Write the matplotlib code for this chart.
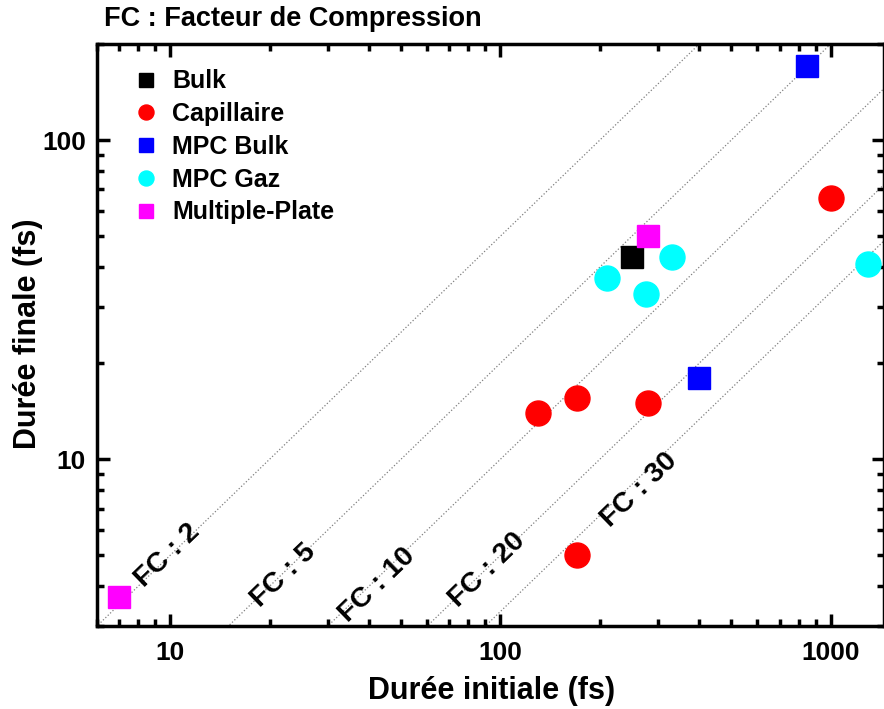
import numpy as np
import matplotlib.pyplot as plt
from matplotlib.ticker import LogLocator, NullFormatter

plt.rcParams['font.family'] = ['Liberation Sans', 'DejaVu Sans']
plt.rcParams['font.weight'] = 'bold'

# data (initial duration, final duration) in fs
bulk_x = [250]
bulk_y = [43]
capi_x = [1000, 130, 170, 280, 170]
capi_y = [66, 14, 15.5, 15, 5]
mpcb_x = [850, 400]
mpcb_y = [170, 18]
mpcg_x = [210, 330, 275, 1300]
mpcg_y = [37, 43, 33, 41]
mplate_x = [280, 7]
mplate_y = [50, 3.7]

# compression factor lines and where their labels sit
fc_values = [2, 5, 10, 20, 30]
fc_label_x = [9.8, 22.1, 42.3, 91, 263]
fc_label_y = [5.0, 4.33, 4.03, 4.49, 8.0]

fig = plt.figure(figsize=(8.84, 7.09), dpi=100)
ax = fig.add_axes([0.1097, 0.117, 0.8903, 0.821])

xx = np.array([1, 10000])
for fc in fc_values:
    ax.plot(xx, xx / fc, color='gray', ls=':', lw=0.9, zorder=1)
for fc, lx, ly in zip(fc_values, fc_label_x, fc_label_y):
    ax.text(lx, ly, 'FC : %d' % fc, rotation=44, fontsize=20.5, fontweight='bold',
            ha='center', va='center', zorder=2)

ax.plot(bulk_x, bulk_y, 's', color='black', ms=16, label='Bulk', zorder=3)
ax.plot(capi_x, capi_y, 'o', color='red', ms=18, label='Capillaire', zorder=3)
ax.plot(mpcb_x, mpcb_y, 's', color='blue', ms=16, label='MPC Bulk', zorder=3)
ax.plot(mpcg_x, mpcg_y, 'o', color='cyan', ms=18, label='MPC Gaz', zorder=3)
ax.plot(mplate_x, mplate_y, 's', color='magenta', ms=16, label='Multiple-Plate', zorder=3)

ax.set_xscale('log')
ax.set_yscale('log')
ax.set_xlim(6, 1450)
ax.set_ylim(3, 200)

ax.xaxis.set_minor_locator(LogLocator(subs=np.arange(2, 10)))
ax.yaxis.set_minor_locator(LogLocator(subs=np.arange(2, 10)))
ax.xaxis.set_minor_formatter(NullFormatter())
ax.yaxis.set_minor_formatter(NullFormatter())
ax.set_xticks([10, 100, 1000])
ax.set_xticklabels(['10', '100', '1000'])
ax.set_yticks([10, 100])
ax.set_yticklabels(['10', '100'])

ax.tick_params(which='both', direction='in', top=True, right=True, width=2.5, labelsize=19)
ax.tick_params(which='major', length=9, pad=8)
ax.tick_params(axis='x', which='major', pad=11)
ax.tick_params(which='minor', length=5)
for s in ax.spines.values():
    s.set_linewidth(2.5)

ax.set_xlabel('Durée initiale (fs)', fontsize=22, fontweight='bold')
ax.set_ylabel('Durée finale (fs)', fontsize=22, fontweight='bold')
ax.xaxis.set_label_coords(0.502, -0.085)
ax.yaxis.set_label_coords(-0.068, 0.503)
fig.text(0.118, 0.973, 'FC : Facteur de Compression', fontsize=19.5, fontweight='bold',
         ha='left', va='center')

leg = ax.legend(loc='upper left', bbox_to_anchor=(0.018, 0.995), frameon=False,
                fontsize=18, markerscale=0.6, handletextpad=0.55, labelspacing=0.35,
                handlelength=1.0)

fig.savefig('out.png', dpi=100)
